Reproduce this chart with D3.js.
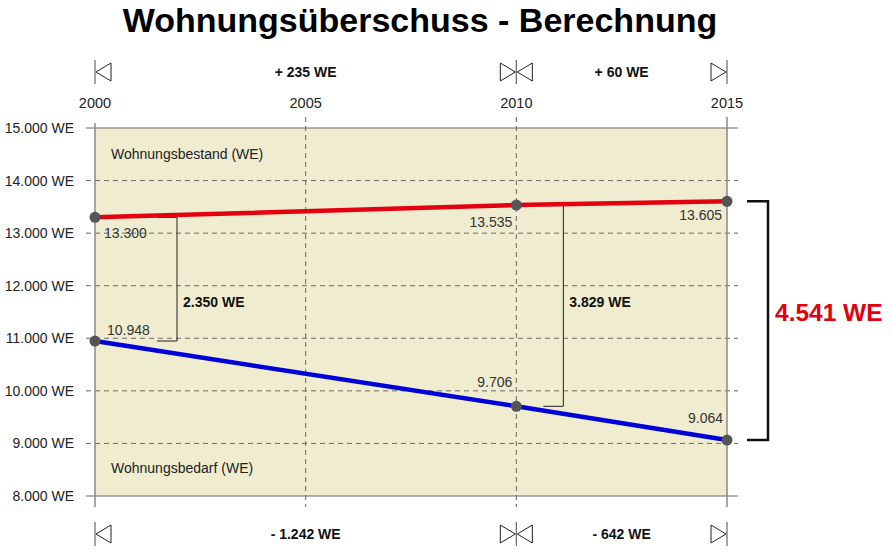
<!DOCTYPE html>
<html>
<head>
<meta charset="utf-8">
<script src="https://cdn.jsdelivr.net/npm/d3@7"></script>
<style>
  body { margin: 0; background: #fff; }
  text { font-family: "Liberation Sans", Arial, Helvetica, sans-serif; }
</style>
</head>
<body>
<svg id="chart" width="892" height="554"></svg>
<script>
// Wohnungsueberschuss - Berechnung

var years = [2000, 2010, 2015];
var bestand = [13300, 13535, 13605];   // Wohnungsbestand (WE)
var bedarf = [10948, 9706, 9064];      // Wohnungsbedarf (WE)
var xTicks = [2000, 2005, 2010, 2015];
var yTicks = [8000, 9000, 10000, 11000, 12000, 13000, 14000, 15000];
var gapYears = [2000, 2010];
var diffLabels = ['2.350 WE', '3.829 WE'];          // gap at 2000 and 2010
var totalLabel = '4.541 WE';                        // gap at 2015
var periods = [[2000, 2010], [2010, 2015]];
var bestandChange = ['+ 235 WE', '+ 60 WE'];
var bedarfChange = ['- 1.242 WE', '- 642 WE'];

var de = d3.formatLocale({decimal: ',', thousands: '.', grouping: [3], currency: ['', ' €']});
var fmt = de.format(',');

var svg = d3.select('#chart');

var x = d3.scaleLinear().domain([2000, 2015]).range([95, 727]);
var y = d3.scaleLinear().domain([8000, 15000]).range([496, 128]);

// title
svg.append('text')
  .attr('x', 420).attr('y', 32)
  .attr('text-anchor', 'middle')
  .attr('font-size', '34px').attr('font-weight', 'bold')
  .text('Wohnungsüberschuss - Berechnung');

// plot background
svg.append('rect')
  .attr('x', x(2000)).attr('y', y(15000))
  .attr('width', x(2015) - x(2000))
  .attr('height', y(8000) - y(15000))
  .attr('fill', '#efecd0');

// horizontal grid
svg.append('g').selectAll('line')
  .data(yTicks).enter().append('line')
    .attr('x1', 86).attr('x2', 738)
    .attr('y1', function(d) { return y(d); })
    .attr('y2', function(d) { return y(d); })
    .attr('stroke', '#6a6a6a')
    .attr('stroke-width', function(d) { return (d == 8000 || d == 15000) ? 1.2 : 1; })
    .attr('stroke-dasharray', function(d) { return (d == 8000 || d == 15000) ? null : '5,4'; });

// y labels
svg.append('g').selectAll('text')
  .data(yTicks).enter().append('text')
    .attr('x', 74)
    .attr('y', function(d) { return y(d); })
    .attr('dy', '0.36em')
    .attr('text-anchor', 'end')
    .attr('font-size', '14px')
    .attr('fill', '#222')
    .text(function(d) { return fmt(d) + ' WE'; });

// vertical grid
svg.append('g').selectAll('line')
  .data(xTicks).enter().append('line')
    .attr('x1', function(d) { return x(d); })
    .attr('x2', function(d) { return x(d); })
    .attr('y1', function(d) { return d == 2000 ? 123 : 117; })
    .attr('y2', 507)
    .attr('stroke', function(d) { return (d == 2000 || d == 2015) ? '#888' : '#666'; })
    .attr('stroke-width', function(d) { return (d == 2000 || d == 2015) ? 1.5 : 1; })
    .attr('stroke-dasharray', function(d) { return (d == 2000 || d == 2015) ? null : '5,4'; });

// x labels
svg.append('g').selectAll('text')
  .data(xTicks).enter().append('text')
    .attr('x', function(d) { return x(d); })
    .attr('y', 108)
    .attr('text-anchor', 'middle')
    .attr('font-size', '14.5px')
    .attr('fill', '#222')
    .text(function(d) { return d; });

// series labels
svg.append('text').attr('x', 111).attr('y', 159)
  .attr('font-size', '14px').attr('fill', '#222').text('Wohnungsbestand (WE)');
svg.append('text').attr('x', 111).attr('y', 473)
  .attr('font-size', '14px').attr('fill', '#222').text('Wohnungsbedarf (WE)');

// gap brackets at 2000 and 2010
var bracketOff = [82, 47];
gapYears.forEach(function(yr, i) {
  var bx = x(yr) + bracketOff[i], w = 20;
  svg.append('path')
    .attr('d', 'M' + (bx - w) + ',' + y(bestand[i]) + 'H' + bx + 'V' + y(bedarf[i]) + 'H' + (bx - w))
    .attr('fill', 'none').attr('stroke', '#222').attr('stroke-width', 1);
  svg.append('text')
    .attr('x', bx + 6).attr('y', y(11700)).attr('dy', '0.36em')
    .attr('font-size', '14px').attr('font-weight', 'bold').attr('fill', '#111')
    .text(diffLabels[i]);
});

// lines
var line = d3.line()
  .x(function(d) { return x(d[0]); })
  .y(function(d) { return y(d[1]); });

svg.append('path')
  .datum(d3.zip(years, bestand))
  .attr('d', line)
  .attr('fill', 'none').attr('stroke', '#e4000f').attr('stroke-width', 4.5);

svg.append('path')
  .datum(d3.zip(years, bedarf))
  .attr('d', line)
  .attr('fill', 'none').attr('stroke', '#0000d8').attr('stroke-width', 4.5);

// points
[bestand, bedarf].forEach(function(series) {
  svg.append('g').selectAll('circle')
    .data(d3.zip(years, series)).enter().append('circle')
      .attr('cx', function(d) { return x(d[0]); })
      .attr('cy', function(d) { return y(d[1]); })
      .attr('r', 5.5)
      .attr('fill', '#555');
});

// value labels
var bestandOff = [[9, 'start', 21], [-4, 'end', 22], [-5, 'end', 19]];
var bedarfOff = [[12, 'start', -6], [-4, 'end', -19], [-4, 'end', -17]];
function valueLabels(series, offs) {
  svg.append('g').selectAll('text')
    .data(d3.zip(years, series)).enter().append('text')
      .attr('x', function(d, i) { return x(d[0]) + offs[i][0]; })
      .attr('y', function(d, i) { return y(d[1]) + offs[i][2]; })
      .attr('text-anchor', function(d, i) { return offs[i][1]; })
      .attr('font-size', '14px')
      .attr('fill', '#333')
      .text(function(d) { return fmt(d[1]); });
}
valueLabels(bestand, bestandOff);
valueLabels(bedarf, bedarfOff);

// total bracket at 2015
var last = years.length - 1;
svg.append('path')
  .attr('d', 'M747,' + y(bestand[last]) + 'H768V' + y(bedarf[last]) + 'H747')
  .attr('fill', 'none').attr('stroke', '#111').attr('stroke-width', 2.5);
svg.append('text')
  .attr('x', 775).attr('y', (y(bestand[last]) + y(bedarf[last])) / 2 - 9)
  .attr('dy', '0.36em')
  .attr('font-size', '24.5px').attr('font-weight', 'bold').attr('fill', '#e00010')
  .text(totalLabel);

// period markers (top: Bestand, bottom: Bedarf)
function periodRow(cy, labels) {
  var g = svg.append('g');
  periods.forEach(function(p, i) {
    var x0 = x(p[0]), x1 = x(p[1]);
    // start: left-pointing triangle
    g.append('path')
      .attr('d', 'M' + (x0 + 1) + ',' + cy + 'L' + (x0 + 16) + ',' + (cy - 9) + 'V' + (cy + 9) + 'Z')
      .attr('fill', '#fff').attr('stroke', '#222').attr('stroke-width', 1);
    // end: right-pointing triangle
    g.append('path')
      .attr('d', 'M' + (x1 - 1) + ',' + cy + 'L' + (x1 - 16) + ',' + (cy - 9) + 'V' + (cy + 9) + 'Z')
      .attr('fill', '#fff').attr('stroke', '#222').attr('stroke-width', 1);
    g.append('text')
      .attr('x', (x0 + x1) / 2).attr('y', cy).attr('dy', '0.36em')
      .attr('text-anchor', 'middle')
      .attr('font-size', '14px').attr('font-weight', 'bold').attr('fill', '#111')
      .text(labels[i]);
  });
  g.selectAll('line')
    .data(years).enter().append('line')
      .attr('x1', function(d) { return x(d); })
      .attr('x2', function(d) { return x(d); })
      .attr('y1', cy - 12).attr('y2', cy + 12)
      .attr('stroke', '#666').attr('stroke-width', 1.2);
}
periodRow(72, bestandChange);
periodRow(534, bedarfChange);
</script>
</body>
</html>
